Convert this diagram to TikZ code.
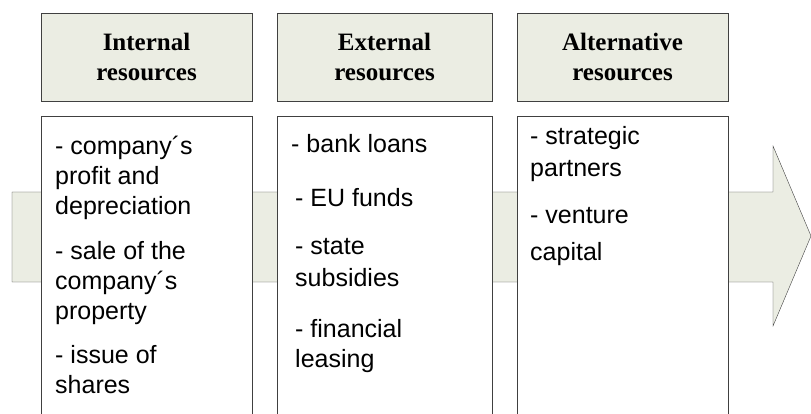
\documentclass[tikz,border=0pt]{standalone}
\usepackage{fontspec}
\setmainfont{Liberation Serif}
\newfontfamily\listfont{Liberation Sans}
\usetikzlibrary{positioning}
\definecolor{sage}{HTML}{EBEDE3}
\definecolor{edge}{HTML}{404040}

\begin{document}
\begin{tikzpicture}[x=1pt, y=-1pt,
    hdr/.style={draw=edge, fill=sage, minimum height=88pt, inner sep=0pt,
                align=center, font=\fontsize{25}{30}\selectfont\bfseries},
    col/.style={draw=edge, fill=white, minimum height=304pt, inner sep=0pt},
    items/.style={anchor=base west, inner sep=0pt, align=left,
                  font=\listfont\fontsize{25}{30}\selectfont},
  ]
    \useasboundingbox (0,0) rectangle (811,414);
    \clip (0,0) rectangle (811,414);

    % flow arrow behind the columns
    \draw[edge, fill=sage] (12,192) -- (773,192) -- (773,146) -- (811,236)
        -- (773,326) -- (773,282) -- (12,282) -- cycle;

    % headers
    \node[hdr, minimum width=211pt] (hdInt) at (146.5,57) {Internal\\resources};
    \node[hdr, minimum width=215pt] (hdExt) at (384.5,57) {External\\resources};
    \node[hdr, minimum width=211pt] (hdAlt) at (622.5,57) {Alternative\\resources};

    % columns (open at the bottom edge)
    \node[col, minimum width=211pt, below=15pt of hdInt] (colInt) {};
    \node[col, minimum width=215pt, below=15pt of hdExt] (colExt) {};
    \node[col, minimum width=211pt, below=15pt of hdAlt] (colAlt) {};

    % lists (placed by the baseline of their last line)
    \node[items] (txInt) at (55,393) {- company´s\\profit and\\depreciation\\[15pt]%
        - sale of the\\company´s\\property\\[14pt]- issue of\\shares};
    \node[items] (txExt) at (295,367) {\hspace*{-4pt}- bank loans\\[24pt]%
        - EU funds\\[18pt]- state\\[2pt]subsidies\\[21pt]- financial\\leasing};
    \node[items] (txAlt) at (530,260) {- strategic\\[2pt]partners\\[18pt]%
        - venture\\[6pt]capital};
\end{tikzpicture}
\end{document}
